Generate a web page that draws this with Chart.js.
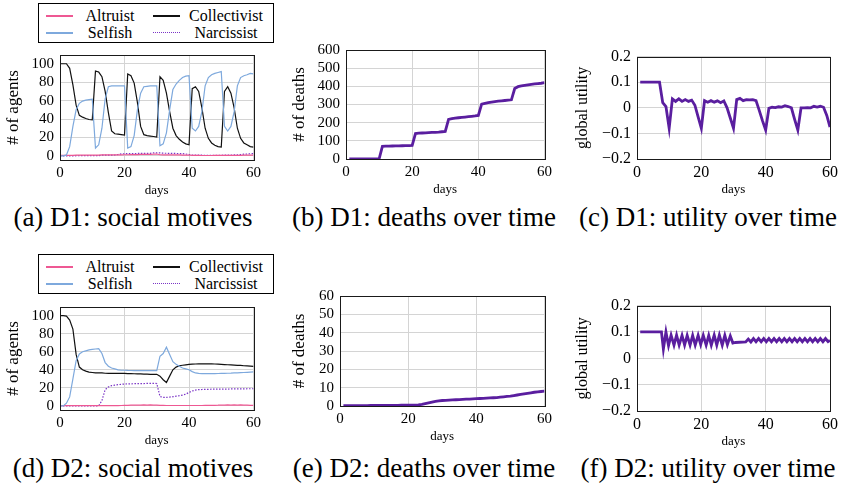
<!DOCTYPE html>
<html>
<head>
<meta charset="utf-8">
<script src="https://cdn.jsdelivr.net/npm/chart.js@4.4.1/dist/chart.umd.min.js"></script>
<style>
  body { margin: 0; width: 844px; height: 487px; position: relative; overflow: hidden; background: #fff; font-family: "Liberation Serif", "DejaVu Serif", serif; color: #000; }
  canvas { position: absolute; }
  .cap { position: absolute; font-size: 27px; white-space: nowrap; transform: translate(-50%, -50%); }
  .legend { position: absolute; border: 1px solid #000; box-sizing: border-box; background: #fff; }
  .legend .txt { position: absolute; font-size: 16px; white-space: nowrap; transform: translate(-50%, -50%); }
  .legend .smp { position: absolute; }
</style>
</head>
<body>
<script>
// ---- data ----
const daysAgents = [0,1,2,3,4,5,6,7,8,9,10,11,12,13,14,15,16,17,18,19,20,21,22,23,24,25,26,27,28,29,30,
  31,32,33,34,35,36,37,38,39,40,41,42,43,44,45,46,47,48,49,50,51,52,53,54,55,56,57,58,59,60];
const days = [1,2,3,4,5,6,7,8,9,10,11,12,13,14,15,16,17,18,19,20,21,22,23,24,25,26,27,28,29,30,
  31,32,33,34,35,36,37,38,39,40,41,42,43,44,45,46,47,48,49,50,51,52,53,54,55,56,57,58,59,60];

// D1 social motives
const d1Collectivist = [100,100,100,95,77,55,44,42,40.5,39.5,39,
  92,91,86,70,47,27,24,23.5,23,22.5,
  89,87,79,58,32,23,22,21.5,21,20.5,
  86,82,68,48,30,22,18,15,13,12,
  73,75,70,52,30,19,14,11.5,10,9.5,
  70,75,68,52,30,19,14,12,10,9.5];
const d1Selfish = [0,0,1,10,32,50,57,59.5,60.5,61,61.5,
  8.5,12,30,62,75,76,76,76,76,76,
  8.5,10,22,50,68,75,75.5,76,76,76,
  11,13,25,50,72,78,82,85,86.5,87,
  30,27,32,48,76,85,88,89.5,90.5,91.5,
  32,27,32,48,76,85,87,88,89.5,89];
const d1Altruist = [0.5,0.5,0.5,0.6,0.6,0.7,0.7,0.8,0.8,0.8,0.9,
  0.9,0.9,1,1,1,1,1,1.1,1.1,1.2,
  1.2,1.3,1.3,1.4,1.5,1.5,1.6,1.7,1.8,2,
  1.2,1,1,1,1,1,1,0.9,0.9,0.9,
  0.5,0.5,0.5,0.4,0.4,0.4,0.4,0.5,0.5,0.5,
  0.5,0.5,0.5,0.6,0.6,0.6,0.7,0.7,0.7,0.8];
const d1Narcissist = [0,0,0,0,0,0.1,0.1,0.2,0.2,0.3,0.3,
  0.3,0.3,0.8,0.8,0.8,0.8,0.9,1.5,2.2,2.3,
  2.4,2.5,2.5,2.6,2.7,2.7,2.8,2.8,3.2,3.3,
  3.2,2.9,2.8,2.8,2.7,2.6,2.5,2.5,2,1.5,
  0.8,0.8,0.7,0.7,0.6,0.6,0.6,0.6,0.6,0.6,
  0.8,0.8,0.9,1,1,1.5,1.8,2,2.3,2.5];

// D2 social motives
const d2Collectivist = [100,100,99.5,95,85,57,43,40,38.5,37.5,37,
  36.5,36.5,36.5,36.2,36,36,36,36,36,36,
  35.8,35.8,35.6,35.5,35.4,35.2,35.1,35,35,35,
  33,29,26,33,40,43,44.5,45,45.5,46,
  46.2,46.4,46.5,46.5,46.6,46.6,46.5,46.4,46.2,46,
  45.8,45.6,45.4,45.2,45,44.8,44.5,44.3,44.1,43.8];
const d2Selfish = [0,0,3,10,30,50,57.5,60,61,62,62.5,
  63,63.5,58,48,44,42,41,40,39.5,39.5,
  39.3,39.2,39,39,39,39,39,39,39,39,
  55,58,65,57,49,46,44,42,41,40,
  38,36.5,36,35.8,35.8,35.8,35.8,35.8,35.9,36,
  36,36.2,36.3,36.5,36.6,36.8,37,37.2,37.4,37.6];
const d2Altruist = [0.3,0.3,0.3,0.3,0.3,0.3,0.3,0.3,0.3,0.3,0.3,
  0.3,0.3,0.3,0.3,0.3,0.4,0.4,0.4,0.5,0.6,
  0.7,0.9,1,0.8,1,1.1,0.9,1.2,1,1,
  0.6,0.6,0.5,0.5,0.5,0.5,0.5,0.5,0.5,0.5,
  0.5,0.5,0.5,0.5,0.6,0.6,0.6,0.7,0.8,1,
  0.9,1.1,0.9,1.2,1,1.1,0.9,0.8,0.7,0.7];
const d2Narcissist = [0,0,0,0,0,0,0,0,0,0,0,
  0,0,6,18,21,22.5,23,23.5,24,24.2,
  24.4,24.5,24.6,24.7,24.8,24.8,24.9,24.9,25,24.8,
  10.5,9.5,9.5,9.8,10.2,10.8,11.3,12,13,15,
  16.5,17.5,18,18.2,18.3,18.4,18.5,18.5,18.6,18.6,
  18.7,18.7,18.8,18.8,18.8,18.9,18.9,19,19,19];

// deaths
const d1Deaths = [0,0,0,0,0,0,0,0,0,0,
  70,70.5,71,71.5,72,72.5,73,73.5,74,75,
  140,142,143,144,145,146,147,148,150,152,
  218,222,225,227,229,231,233,235,237,240,
  302,306,310,313,316,318,320,322,324,326,
  388,398,402,405,408,411,413,415,417,420];
const d2Deaths = [0.2,0.2,0.2,0.2,0.2,0.2,0.2,0.2,0.3,0.3,
  0.3,0.3,0.3,0.3,0.3,0.3,0.3,0.4,0.4,0.4,
  0.4,0.5,0.6,0.9,1.3,1.7,2.1,2.5,2.8,3.0,
  3.1,3.2,3.3,3.4,3.5,3.6,3.7,3.8,3.9,4.0,
  4.1,4.2,4.3,4.4,4.5,4.6,4.8,5.0,5.2,5.4,
  5.7,6.0,6.3,6.6,6.9,7.2,7.5,7.7,7.9,8.1];

// global utility
const d1Utility = [0.1,0.1,0.1,0.1,0.1,0.1,0.1,0.02,0.005,-0.08,
  0.035,0.025,0.035,0.025,0.032,0.025,0.03,0.01,-0.035,-0.08,
  0.028,0.022,0.028,0.022,0.027,0.02,0.027,0,-0.04,-0.08,
  0.032,0.037,0.028,0.032,0.031,0.032,0.028,-0.01,-0.05,-0.087,
  -0.002,0.002,0.001,0.004,0.003,0.008,0.005,0,-0.045,-0.087,
  0,0,0.001,0,0.006,0.003,0.006,0.002,-0.03,-0.075];
const daysUtilityD2 = [1,7.6,8.2,9.0,9.8,10.6,11.5,12.3,13.1,14.0,14.8,15.6,16.5,17.3,18.1,19.0,19.8,20.6,21.5,22.3,
  23.1,24.0,24.8,25.6,26.5,27.3,28.1,29.0,29.8,30.6,33.8,34.6,35.4,36.2,37.0,37.8,38.6,39.4,40.2,41.0,
  41.8,42.6,43.4,44.2,45.0,45.8,46.6,47.4,48.2,49.0,49.8,50.6,51.4,52.2,53.0,53.8,54.6,55.4,56.2,57.0,
  57.8,58.6,59.4,60.0];
const d2Utility = [0.1,0.1,0.035,0.1,0.048,0.088,0.05,0.088,0.05,0.087,0.05,0.087,0.05,0.087,0.05,0.087,0.052,0.087,0.05,0.087,
  0.05,0.088,0.05,0.088,0.05,0.087,0.052,0.085,0.058,0.06,0.062,0.073,0.062,0.075,0.063,0.075,0.063,0.075,0.063,0.075,
  0.063,0.075,0.063,0.075,0.063,0.075,0.063,0.075,0.063,0.075,0.063,0.075,0.063,0.075,0.063,0.075,0.063,0.075,0.063,0.075,
  0.063,0.075,0.063,0.068];

// ticks
const dayTicks = [0, 20, 40, 60];
const agentTicks = [0, 20, 40, 60, 80, 100];
const deathTicksD1 = [0, 100, 200, 300, 400, 500, 600];
const deathTicksD2 = [0, 10, 20, 30, 40, 50, 60];
const utilityTicks = [-0.2, -0.1, 0, 0.1, 0.2];

const motives = ['Altruist', 'Selfish', 'Collectivist', 'Narcissist'];
const captions = ['(a) D1: social motives', '(b) D1: deaths over time', '(c) D1: utility over time',
  '(d) D2: social motives', '(e) D2: deaths over time', '(f) D2: utility over time'];

// ---- styles ----
const colors = { Altruist: '#ee5893', Selfish: '#7ea9dd', Collectivist: '#111111', Narcissist: '#7a34c6' };
const thick = '#5a1e9f';
const gridColor = '#d4d4d4';

Chart.defaults.font.family = '"Liberation Serif", "DejaVu Serif", serif';
Chart.defaults.color = '#000';

const pts = (xs, ys) => xs.map((x, i) => ({ x: x, y: ys[i] }));

// pgfplots-style closed box round the plot area
const frame = {
  id: 'frame',
  afterDraw(chart) {
    const a = chart.chartArea, ctx = chart.ctx;
    ctx.save();
    ctx.strokeStyle = '#1a1a1a';
    ctx.lineWidth = 1;
    const l = Math.round(a.left) + 0.5, t = Math.round(a.top) + 0.5;
    ctx.strokeRect(l, t, Math.round(a.right) - Math.round(a.left), Math.round(a.bottom) - Math.round(a.top));
    ctx.restore();
  }
};

const fmt = v => (v < 0 ? '\u2212' + Math.abs(v) : String(v));

function makeChart(box, plot, cfg) {
  const c = document.createElement('canvas');
  c.width = box.w; c.height = box.h;
  c.style.left = box.x + 'px'; c.style.top = box.y + 'px';
  c.style.width = box.w + 'px'; c.style.height = box.h + 'px';
  document.body.appendChild(c);

  const yW = plot.l - box.x;
  const xH = box.y + box.h - plot.b;
  const yLh = cfg.titleSize * 1.2;
  const dLh = 13 * 1.2;

  new Chart(c, {
    type: 'line',
    data: { datasets: cfg.datasets },
    options: {
      responsive: false,
      animation: false,
      devicePixelRatio: 1,
      layout: { padding: { left: 0, top: plot.t - box.y, right: box.x + box.w - plot.r, bottom: 0 } },
      plugins: { legend: { display: false }, tooltip: { enabled: false } },
      elements: { point: { radius: 0 }, line: { tension: 0 } },
      scales: {
        x: {
          type: 'linear', min: 0, max: 60,
          afterFit: s => { s.height = xH; },
          afterBuildTicks: s => { s.ticks = dayTicks.map(v => ({ value: v })); },
          grid: { color: gridColor, drawTicks: false },
          border: { display: false },
          ticks: { padding: 4, autoSkip: false, maxRotation: 0, font: { size: cfg.tickSize }, callback: v => fmt(v) },
          title: { display: true, text: 'days', font: { size: 13 }, padding: { top: 0, bottom: xH - 31 - dLh / 2 } }
        },
        y: {
          type: 'linear', min: cfg.yMin, max: cfg.yMax,
          afterFit: s => { s.width = yW; },
          afterBuildTicks: s => { s.ticks = cfg.yTicks.map(v => ({ value: v })); },
          grid: { color: gridColor, drawTicks: false },
          border: { display: false },
          ticks: { padding: 6, autoSkip: false, font: { size: cfg.tickSize }, callback: v => fmt(v) },
          title: { display: true, text: cfg.yTitle, font: { size: cfg.titleSize }, padding: { top: cfg.titleX - box.x - yLh / 2, bottom: 0 } }
        }
      }
    },
    plugins: [frame]
  });
}

function agentSets(alt, sel, col, nar) {
  return [
    { data: pts(daysAgents, sel), borderColor: colors.Selfish, borderWidth: 1.2 },
    { data: pts(daysAgents, col), borderColor: colors.Collectivist, borderWidth: 1.2 },
    { data: pts(daysAgents, alt), borderColor: colors.Altruist, borderWidth: 1.2 },
    { data: pts(daysAgents, nar), borderColor: colors.Narcissist, borderWidth: 1.2, borderDash: [1.5, 1.5] }
  ];
}

function thickSet(xs, ys) {
  return [{ data: pts(xs, ys), borderColor: thick, borderWidth: 2.8 }];
}

function legend(x, y) {
  const box = document.createElement('div');
  box.className = 'legend';
  Object.assign(box.style, { left: x + 'px', top: y + 'px', width: '236px', height: '40px' });
  const cells = [
    { name: motives[0], sx: 7, tx: 71, ty: 12 },
    { name: motives[1], sx: 7, tx: 71, ty: 29 },
    { name: motives[2], sx: 114, tx: 187, ty: 12 },
    { name: motives[3], sx: 114, tx: 187, ty: 29 }
  ];
  cells.forEach(cl => {
    const s = document.createElement('div');
    s.className = 'smp';
    const dotted = cl.name === 'Narcissist';
    if (dotted) {
      Object.assign(s.style, { left: cl.sx + 'px', top: (cl.ty - 1) + 'px', width: '27px', height: '0',
        borderTop: '1.5px dotted ' + colors[cl.name] });
    } else {
      Object.assign(s.style, { left: cl.sx + 'px', top: (cl.ty - 1) + 'px', width: '27px', height: '1.5px',
        background: colors[cl.name] });
    }
    const t = document.createElement('div');
    t.className = 'txt';
    t.textContent = cl.name;
    Object.assign(t.style, { left: cl.tx + 'px', top: cl.ty + 'px' });
    box.appendChild(s); box.appendChild(t);
  });
  document.body.appendChild(box);
}

function caption(text, cx, cy) {
  const d = document.createElement('div');
  d.className = 'cap';
  d.textContent = text;
  d.style.left = cx + 'px'; d.style.top = cy + 'px';
  document.body.appendChild(d);
}

// ---- panels ----
makeChart({ x: 0, y: 40, w: 265, h: 160 }, { l: 60, t: 52, r: 257, b: 160 },
  { datasets: agentSets(d1Altruist, d1Selfish, d1Collectivist, d1Narcissist), yMin: -4.5, yMax: 109.5,
    yTicks: agentTicks, yTitle: '# of agents', titleSize: 17, titleX: 14, tickSize: 15 });
makeChart({ x: 290, y: 35, w: 266, h: 164 }, { l: 346, t: 47, r: 548, b: 159 },
  { datasets: thickSet(days, d1Deaths), yMin: 0, yMax: 600,
    yTicks: deathTicksD1, yTitle: '# of deaths', titleSize: 17, titleX: 300, tickSize: 15 });
makeChart({ x: 570, y: 41, w: 272, h: 158 }, { l: 637, t: 53, r: 833, b: 159 },
  { datasets: thickSet(days, d1Utility), yMin: -0.2, yMax: 0.2,
    yTicks: utilityTicks, yTitle: 'global utility', titleSize: 16, titleX: 583, tickSize: 16 });

makeChart({ x: 0, y: 292, w: 265, h: 158 }, { l: 60, t: 304, r: 256, b: 410 },
  { datasets: agentSets(d2Altruist, d2Selfish, d2Collectivist, d2Narcissist), yMin: -4.5, yMax: 109.5,
    yTicks: agentTicks, yTitle: '# of agents', titleSize: 17, titleX: 14, tickSize: 15 });
makeChart({ x: 290, y: 281, w: 266, h: 165 }, { l: 340, t: 293, r: 548, b: 406 },
  { datasets: thickSet(days, d2Deaths), yMin: 0, yMax: 60,
    yTicks: deathTicksD2, yTitle: '# of deaths', titleSize: 17, titleX: 300, tickSize: 15 });
makeChart({ x: 570, y: 290, w: 272, h: 161 }, { l: 637, t: 302, r: 833, b: 411 },
  { datasets: thickSet(daysUtilityD2, d2Utility), yMin: -0.2, yMax: 0.2,
    yTicks: utilityTicks, yTitle: 'global utility', titleSize: 16, titleX: 583, tickSize: 16 });

legend(38, 3);
legend(38, 254);

caption(captions[0], 133, 217);
caption(captions[1], 424, 217);
caption(captions[2], 708, 217);
caption(captions[3], 133, 468);
caption(captions[4], 424, 468);
caption(captions[5], 708, 468);
</script>
</body>
</html>
